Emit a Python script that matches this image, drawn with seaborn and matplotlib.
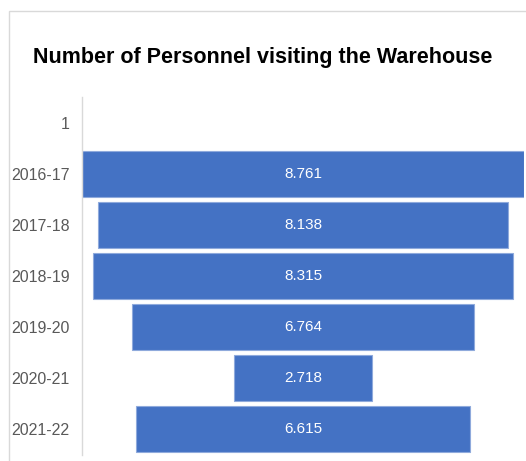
import numpy as np
import pandas as pd
import seaborn as sns
import matplotlib.pyplot as plt
from matplotlib.patches import Rectangle

# dados (funil)
categorias = ["1", "2016-17", "2017-18", "2018-19", "2019-20", "2020-21", "2021-22"]
anos = ["2016-17", "2017-18", "2018-19", "2019-20", "2020-21", "2021-22"]
valores = [8.761, 8.138, 8.315, 6.764, 2.718, 6.615]
titulo = "Number of Personnel visiting the Warehouse"

AZUL = "#4472C4"
FONTE = ["Liberation Sans", "DejaVu Sans"]

df = pd.DataFrame({"ano": anos, "valor": valores})
maximo = df["valor"].max()
df["offset"] = (maximo - df["valor"]) / 2

sns.set_theme(style="white")
plt.rcParams["font.family"] = FONTE

fig = plt.figure(figsize=(5.26, 4.61), dpi=100)
ax = fig.add_axes([82 / 526, 6 / 461, 442 / 526, 358 / 461])

sns.barplot(data=df, y="ano", x="valor", order=categorias, orient="h",
            color=AZUL, saturation=1, width=0.9, left=df["offset"].values,
            edgecolor="#8FAADC", linewidth=0.8, ax=ax)

ax.bar_label(ax.containers[0], labels=[f"{v:.3f}" for v in valores],
             label_type="center", color="white", fontsize=11)

ax.set_xlim(0, maximo)
ax.set_ylim(6.5, -0.5)
ax.set_xlabel("")
ax.set_ylabel("")
ax.set_xticks([])
ax.tick_params(axis="y", length=0, labelsize=11.5, labelcolor="#595959", pad=9)
for s in ["top", "right", "bottom"]:
    ax.spines[s].set_visible(False)
ax.spines["left"].set_color("#D9D9D9")
ax.spines["left"].set_linewidth(1)

fig.text(0.5, 1 - 58 / 461, titulo, ha="center", va="center",
         fontsize=15.5, fontweight="bold", color="black")

# moldura cinza do gráfico (cortada à direita e embaixo)
fig.patches.append(Rectangle((9 / 526, -0.1), 1.2, 1 - 11 / 461 + 0.1,
                             transform=fig.transFigure, fill=False,
                             edgecolor="#D9D9D9", linewidth=1))

fig.savefig("out.png", dpi=100)
